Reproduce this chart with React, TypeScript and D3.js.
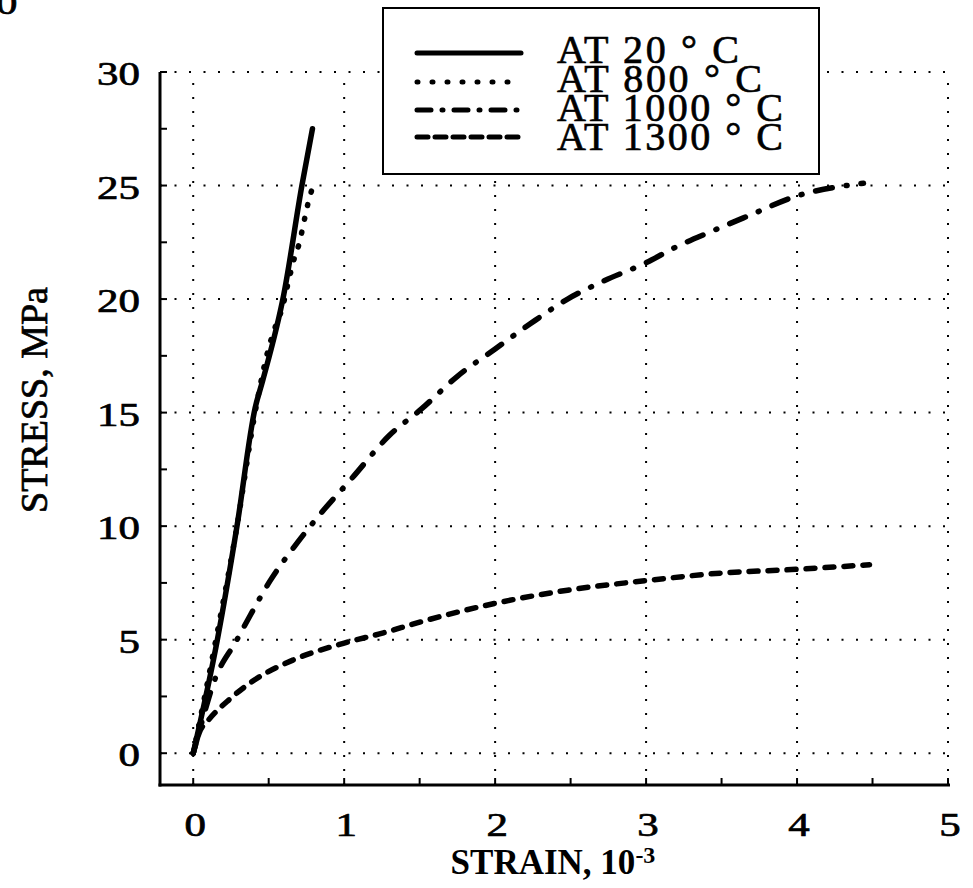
import React from 'react';
import * as d3 from 'd3';

// (strain in 10^-3, stress in MPa)
const strain20 = [0, 0.16, 0.29, 0.41, 0.46, 0.6, 0.72, 0.79];
const stress20 = [0, 5, 10, 15.2, 16.4, 20.2, 25, 27.5];

const strain800 = [0, 0.15, 0.29, 0.41, 0.49, 0.55, 0.59, 0.625, 0.67, 0.7, 0.74, 0.76, 0.79];
const stress800 = [0, 5, 10, 15, 17.6, 18.9, 19.6, 20.6, 21.8, 22.4, 23.6, 24.2, 24.9];

const strain1000 = [0, 0.05, 0.135, 0.29, 0.38, 0.51, 0.67, 0.85, 1.05, 1.3, 1.51, 1.75, 2.0, 2.23, 2.48, 2.72, 3.0, 3.2, 3.44, 3.69, 3.98, 4.44];
const stress1000 = [0, 1.2, 3.1, 5.0, 6.1, 7.6, 9.1, 10.6, 12.1, 14.0, 15.15, 16.6, 17.8, 18.9, 20.0, 20.8, 21.6, 22.3, 23.0, 23.7, 24.5, 25.1];

const strain1300 = [0, 0.04, 0.1, 0.245, 0.4, 0.66, 1.0, 1.26, 1.5, 2.0, 2.48, 3.0, 3.49, 4.0, 4.48];
const stress1300 = [0, 0.9, 1.45, 2.4, 3.2, 4.1, 4.85, 5.3, 5.77, 6.6, 7.18, 7.6, 7.93, 8.1, 8.3];

const xTicks = [0, 1, 2, 3, 4, 5];
const yTicks = [0, 5, 10, 15, 20, 25, 30];
const legendLabels = ['AT 20 ° C', 'AT 800 ° C', 'AT 1000 ° C', 'AT 1300 ° C'];

const W = 973;
const H = 888;
const FONT = '"Liberation Serif", "Times New Roman", serif';

const x = d3.scaleLinear().domain([-0.22, 5]).range([160, 948]);
const y = d3.scaleLinear().domain([-1.4, 30]).range([785, 72]);

const series = [
  { xs: strain20, ys: stress20, dash: null, legendDash: null },
  { xs: strain800, ys: stress800, dash: '1 13', legendDash: '1 14' },
  { xs: strain1000, ys: stress1000, dash: '17 14 1 14', legendDash: '14 11 1 11' },
  { xs: strain1300, ys: stress1300, dash: '9 10', legendDash: '11 7' },
];

const line = d3
  .line<[number, number]>()
  .x(d => x(d[0]))
  .y(d => y(d[1]))
  .curve(d3.curveMonotoneX);

const legendWidths = [182, 205, 226, 226];

// slightly heavier glyphs, like the scanned print
const ink = { fill: '#000', stroke: '#000', strokeWidth: 0.7 };

export default function App() {
  const minorX = d3.range(0, 5.01, 0.5);
  const minorY = d3.range(0, 30.01, 2.5);
  const x0 = x.range()[0];
  const x1 = x(5);
  const yBottom = y.range()[0];
  const yTop = y(30);

  return (
    <div style={{ position: 'fixed', left: 0, top: 0 }}>
      <svg width={W} height={H} style={{ display: 'block', background: '#fff' }}>
        {/* stray digit cut at the top-left of the scan */}
        <g transform="translate(-4,14) scale(1.3,1)">
          <text fontFamily={FONT} fontSize={33} {...ink}>0</text>
        </g>

        {/* dotted grid */}
        {xTicks.map(t => (
          <line key={'gx' + t} x1={x(t)} x2={x(t)} y1={yBottom} y2={yTop}
            stroke="#000" strokeWidth={2} strokeDasharray="2 12" />
        ))}
        {yTicks.map(t => (
          <line key={'gy' + t} x1={x0} x2={x1} y1={y(t)} y2={y(t)}
            stroke="#000" strokeWidth={2} strokeDasharray="2 12.5" />
        ))}

        {/* axes */}
        <line x1={x0} x2={x0} y1={yBottom + 1.5} y2={yTop} stroke="#000" strokeWidth={3} />
        <line x1={x0 - 1.5} x2={x1 + 2} y1={yBottom} y2={yBottom} stroke="#000" strokeWidth={3} />
        {minorY.map(t => (
          <line key={'my' + t} x1={x0} x2={x0 + 7} y1={y(t)} y2={y(t)} stroke="#000" strokeWidth={2} />
        ))}
        {minorX.map(t => (
          <line key={'mx' + t} x1={x(t)} x2={x(t)} y1={yBottom} y2={yBottom - 7} stroke="#000" strokeWidth={2} />
        ))}

        {/* tick labels */}
        {yTicks.map(t => (
          <g key={'ly' + t} transform={`translate(140,${y(t) + 13}) scale(1.3,1)`}>
            <text fontFamily={FONT} fontSize={33} textAnchor="end" {...ink}>{t}</text>
          </g>
        ))}
        {xTicks.map(t => (
          <g key={'lx' + t} transform={`translate(${x(t) + 2},836) scale(1.3,1)`}>
            <text fontFamily={FONT} fontSize={33} textAnchor="middle" {...ink}>{t}</text>
          </g>
        ))}

        {/* axis titles */}
        <text x={553} y={874} fontFamily={FONT} fontSize={35} fontWeight="bold" textAnchor="middle" fill="#000">
          STRAIN, 10<tspan fontSize={24} dy={-11}>-3</tspan>
        </text>
        <text transform="translate(47,400) rotate(-90)" fontFamily={FONT} fontSize={38}
          textAnchor="middle" textLength={226} lengthAdjust="spacing" {...ink}>
          STRESS, MPa
        </text>

        {/* curves */}
        {series.map((s, i) => (
          <path key={'c' + i}
            d={line(s.xs.map((v, j) => [v, s.ys[j]] as [number, number])) || ''}
            fill="none" stroke="#000" strokeWidth={5.5}
            strokeLinecap="round" strokeLinejoin="round"
            strokeDasharray={s.dash || undefined} />
        ))}

        {/* legend */}
        <rect x={383} y={8} width={436} height={166} fill="#fff" stroke="#000" strokeWidth={2} />
        {series.map((s, i) => {
          const ly = [53, 82, 110, 137][i];
          const by = [63, 92, 121, 150][i];
          return (
            <g key={'lg' + i}>
              <line x1={417} x2={521} y1={ly} y2={ly} stroke="#000" strokeWidth={5}
                strokeLinecap="round" strokeDasharray={s.legendDash || undefined} />
              <text x={557} y={by} fontFamily={FONT} fontSize={40}
                textLength={legendWidths[i]} lengthAdjust="spacing" {...ink}>
                {legendLabels[i]}
              </text>
            </g>
          );
        })}
      </svg>
    </div>
  );
}
